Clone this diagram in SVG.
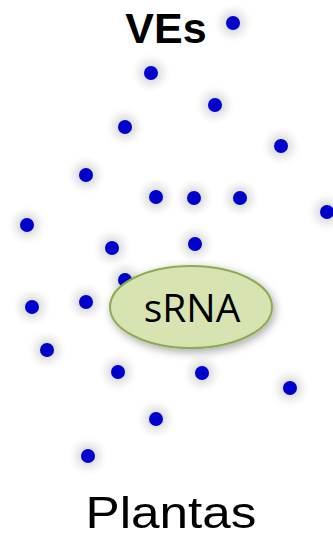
<svg xmlns="http://www.w3.org/2000/svg" width="333" height="538" viewBox="0 0 333 538">
  <defs>
    <radialGradient id="halo">
      <stop offset="0.3" stop-color="#dcdcdc" stop-opacity="1"/>
      <stop offset="0.65" stop-color="#ececec" stop-opacity="0.6"/>
      <stop offset="1" stop-color="#ffffff" stop-opacity="0"/>
    </radialGradient>
    <filter id="shadow" x="-30%" y="-40%" width="160%" height="180%">
      <feGaussianBlur in="SourceAlpha" stdDeviation="5"/>
      <feOffset dx="2" dy="3" result="b"/>
      <feComponentTransfer><feFuncA type="linear" slope="0.35"/></feComponentTransfer>
      <feMerge><feMergeNode/><feMergeNode in="SourceGraphic"/></feMerge>
    </filter>
    <g id="dot">
      <circle r="21" fill="url(#halo)"/>
      <circle r="7" fill="#0000cc"/>
    </g>
  </defs>
  <style>
    .t { font-family: "Open Sans", "Liberation Sans", sans-serif; fill: #000; text-anchor: middle; }
  </style>
  <rect width="333" height="538" fill="#ffffff"/>

  <text id="title" x="166" y="43" font-family="Liberation Sans, Arial, sans-serif" font-size="43" font-weight="bold" text-anchor="middle">VEs</text>

  <g id="vesicles">
    <use href="#dot" x="233" y="23"/>
    <use href="#dot" x="151" y="73"/>
    <use href="#dot" x="215" y="105"/>
    <use href="#dot" x="125" y="127"/>
    <use href="#dot" x="281" y="146"/>
    <use href="#dot" x="86" y="175"/>
    <use href="#dot" x="156" y="197"/>
    <use href="#dot" x="194" y="198"/>
    <use href="#dot" x="240" y="198"/>
    <use href="#dot" x="327" y="212"/>
    <use href="#dot" x="27" y="225"/>
    <use href="#dot" x="112" y="248"/>
    <use href="#dot" x="195" y="244"/>
    <use href="#dot" x="125" y="280"/>
    <use href="#dot" x="32" y="307"/>
    <use href="#dot" x="86" y="302"/>
    <use href="#dot" x="47" y="350"/>
    <use href="#dot" x="118" y="372"/>
    <use href="#dot" x="202" y="373"/>
    <use href="#dot" x="290" y="388"/>
    <use href="#dot" x="156" y="419"/>
    <use href="#dot" x="88" y="456"/>
  </g>

  <g id="srna">
    <ellipse cx="191" cy="307" rx="81" ry="41" fill="#d7e4b2" stroke="#8eaa52" stroke-width="2" filter="url(#shadow)"/>
    <text class="t" x="192" y="322" font-size="39">sRNA</text>
  </g>

  <text id="label" x="171" y="528" font-family="Liberation Sans, Arial, sans-serif" font-size="45" text-anchor="middle" textLength="171" lengthAdjust="spacingAndGlyphs">Plantas</text>
</svg>
